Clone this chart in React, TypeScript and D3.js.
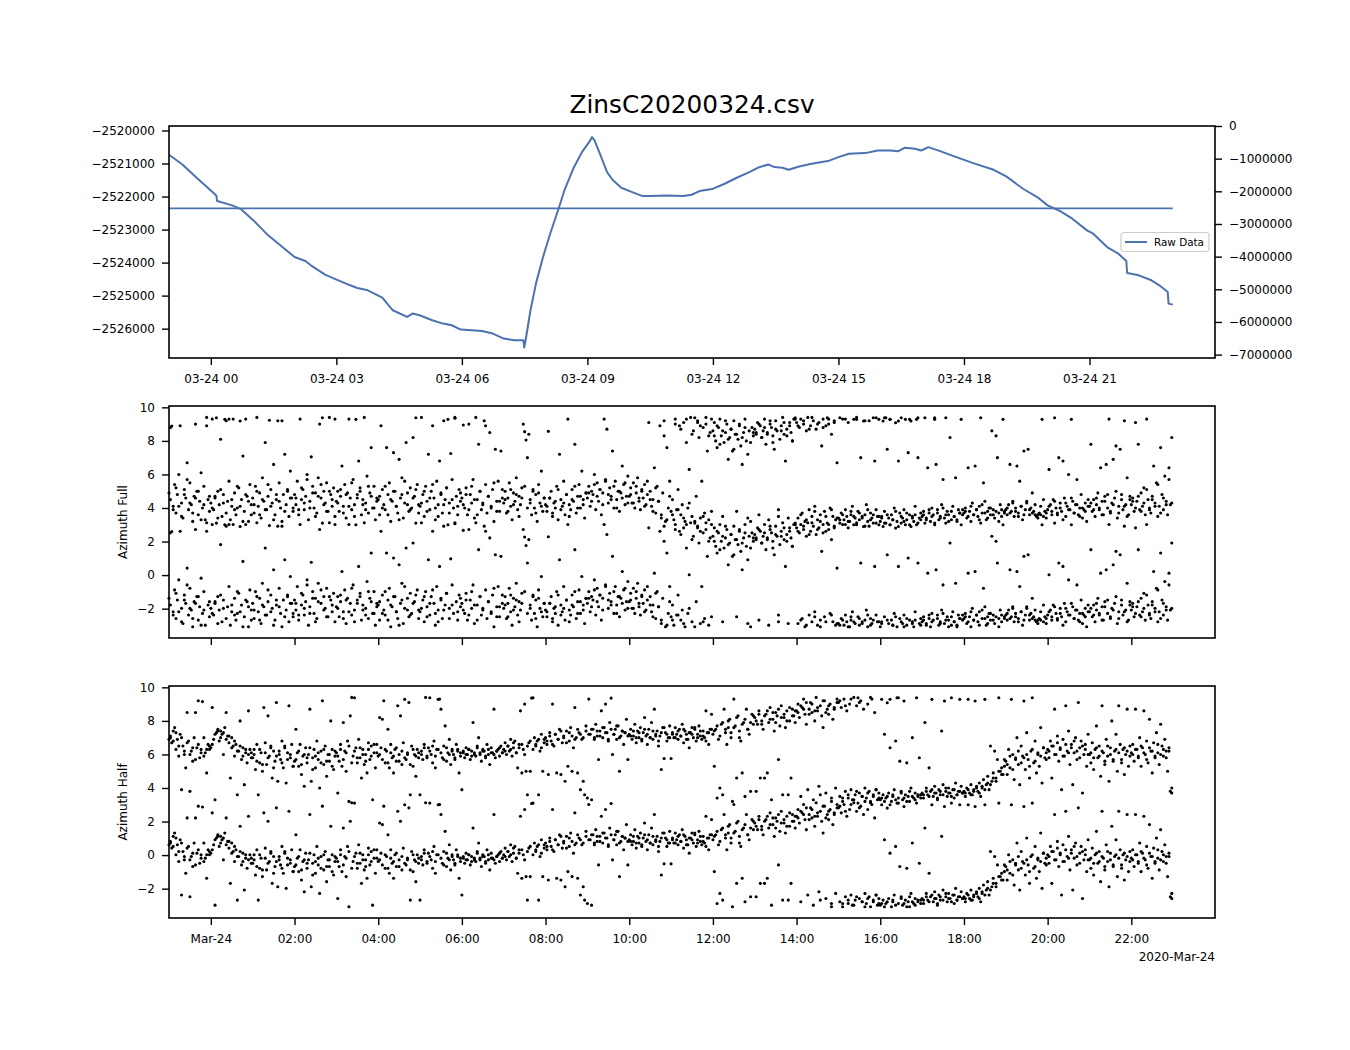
import * as d3 from "d3";
import { useRef, useEffect } from "react";

const title = "ZinsC20200324.csv";
const dayStart = Date.UTC(2020, 2, 24);

// top panel: hours since 03-24 00:00 and the raw reading
const rawHours = [
  -1.0, -0.68, -0.34, 0, 0.13, 0.15, 0.51, 0.73, 1.02, 1.37, 1.71, 2.0, 2.26,
  2.39, 2.73, 2.99, 3.33, 3.5, 3.75, 4.1, 4.18, 4.35, 4.69, 4.82, 4.99, 5.29,
  5.55, 5.76, 5.97, 6.23, 6.48, 6.74, 7.0, 7.25, 7.47, 7.49, 7.53, 7.64, 7.77,
  7.94, 8.11, 8.31, 8.45, 8.66, 8.87, 9.04, 9.11, 9.17, 9.3, 9.47, 9.6, 9.81,
  10.07, 10.32, 10.5, 10.89, 11.29, 11.49, 11.68, 11.98, 12.28, 12.57, 12.87,
  13.07, 13.32, 13.47, 13.66, 13.81, 14.06, 14.36, 14.75, 15.0, 15.25, 15.64,
  15.94, 16.24, 16.43, 16.58, 16.83, 16.98, 17.15, 17.43, 17.82, 18.22, 18.71,
  19.01, 19.41, 19.75, 20.0, 20.3, 20.59, 20.94, 21.09, 21.44, 21.69, 21.88,
  21.9, 22.18, 22.48, 22.67, 22.87, 22.89, 22.99,
];
const rawValues = [
  -2520736, -2521028, -2521431, -2521815, -2521966, -2522137, -2522268,
  -2522389, -2522722, -2523175, -2523528, -2523831, -2523952, -2524083,
  -2524365, -2524506, -2524688, -2524768, -2524839, -2525060, -2525192,
  -2525444, -2525645, -2525544, -2525595, -2525746, -2525847, -2525897,
  -2526028, -2526048, -2526069, -2526149, -2526300, -2526351, -2526351,
  -2526573, -2526300, -2525444, -2524637, -2523831, -2523125, -2522369,
  -2521815, -2521159, -2520655, -2520353, -2520202, -2520302, -2520706,
  -2521260, -2521492, -2521734, -2521865, -2521986, -2521986, -2521966,
  -2521986, -2521946, -2521835, -2521774, -2521613, -2521431, -2521260,
  -2521129, -2521028, -2521109, -2521129, -2521190, -2521089, -2521008,
  -2520927, -2520806, -2520706, -2520685, -2520605, -2520605, -2520625,
  -2520524, -2520554, -2520605, -2520504, -2520625, -2520806, -2520988,
  -2521190, -2521391, -2521764, -2522016, -2522268, -2522440, -2522671,
  -2523024, -2523125, -2523548, -2523730, -2523952, -2524315, -2524385,
  -2524536, -2524688, -2524889, -2525242, -2525272,
];
const refHours = [-1.0, 22.99];
const refValues = [-2522360, -2522360];

const leftTicks = [-2520000, -2521000, -2522000, -2523000, -2524000, -2525000, -2526000];
const rightTicks = [0, -1000000, -2000000, -3000000, -4000000, -5000000, -6000000, -7000000];
const topTickHours = [0, 3, 6, 9, 12, 15, 18, 21];
const bottomTickHours = [0, 2, 4, 6, 8, 10, 12, 14, 16, 18, 20, 22];
const azimuthTicks = [10, 8, 6, 4, 2, 0, -2];

// azimuth readings, one row per hour starting at 23:00 on 03-23
const firstHour = -1;
const azimuthFull = [
  [4.9, 8.8, 2.6, 4.1, 5.4, 3.7, 4.8, 6.0, 8.9, 4.3, 3.4, 5.1, 4.6, 6.7, 3.9, 5.5, 4.2, 3.2, 4.7, 9.0, 5.0, 3.6, 4.4, 6.1, 4.0, 5.3, 3.3, 9.4, 4.5, 3.8],
  [4.3, 9.3, 3.9, 4.6, 3.1, 5.0, 4.2, 8.1, 3.5, 4.8, 3.0, 9.2, 4.4, 5.6, 3.3, 4.1, 9.3, 4.9, 3.6, 4.0, 5.2, 2.9, 4.5, 7.1, 3.8, 9.3, 4.7, 3.2, 5.4, 4.2],
  [4.6, 3.7, 5.3, 9.4, 4.1, 4.9, 3.4, 5.8, 4.4, 7.9, 3.9, 4.7, 2.95, 5.1, 4.3, 6.6, 3.6, 4.5, 9.2, 5.5, 4.0, 3.2, 4.8, 7.2, 4.2, 5.0, 3.5, 6.2, 4.6, 3.8],
  [4.8, 4.2, 5.6, 3.6, 9.3, 4.5, 5.1, 3.9, 4.7, 6.0, 3.3, 4.4, 7.05, 5.3, 4.0, 4.9, 3.7, 5.8, 9.0, 4.6, 3.1, 5.0, 4.3, 5.5, 3.8, 9.4, 4.8, 4.1, 5.2, 3.5],
  [4.4, 5.0, 3.8, 4.7, 6.5, 4.1, 5.4, 3.4, 4.9, 9.3, 4.6, 3.9, 5.7, 4.2, 3.0, 4.8, 6.8, 5.2, 3.6, 4.5, 9.4, 4.3, 5.9, 3.7, 4.9, 7.6, 4.0, 5.3, 3.3, 4.6],
  [4.5, 3.6, 8.9, 5.1, 4.2, 3.9, 7.6, 4.8, 5.5, 3.2, 4.4, 7.3, 5.0, 4.1, 3.7, 6.9, 4.6, 5.8, 3.4, 4.3, 7.9, 4.9, 3.8, 5.2, 4.0, 8.2, 4.7, 3.1, 5.4, 4.2],
  [4.1, 9.4, 4.8, 3.5, 5.3, 4.4, 7.2, 3.9, 5.0, 8.9, 4.6, 3.3, 5.6, 4.2, 6.8, 4.9, 3.7, 9.2, 4.5, 5.2, 3.0, 4.3, 7.25, 5.7, 4.0, 9.35, 4.7, 3.6, 5.1, 4.4],
  [4.6, 8.95, 4.0, 5.2, 3.6, 9.0, 4.8, 4.3, 5.7, 3.4, 9.4, 4.5, 7.8, 5.0, 3.9, 4.2, 9.2, 5.4, 3.7, 4.7, 8.5, 4.1, 5.1, 3.2, 7.5, 4.4, 5.6, 3.8, 7.4, 4.6],
  [4.3, 5.0, 3.7, 4.6, 5.5, 4.1, 3.3, 4.9, 4.4, 5.8, 3.9, 4.7, 4.2, 5.2, 9.0, 8.55, 8.05, 7.0, 8.4, 4.5, 3.6, 5.1, 4.0, 4.8, 3.2, 5.4, 4.3, 6.2, 3.8, 4.6],
  [4.2, 3.8, 8.57, 4.6, 5.0, 3.5, 4.3, 4.0, 5.3, 3.3, 7.2, 4.5, 4.1, 5.6, 3.6, 4.8, 9.3, 4.2, 3.9, 5.1, 4.4, 7.8, 3.7, 4.7, 5.4, 4.0, 6.2, 4.5, 3.4, 4.9],
  [4.6, 5.3, 4.1, 5.0, 4.8, 6.0, 3.9, 5.5, 4.4, 5.1, 3.6, 4.9, 9.3, 5.7, 8.7, 4.3, 5.2, 4.7, 7.4, 4.0, 5.6, 4.5, 5.0, 3.8, 4.9, 6.5, 5.4, 4.2, 4.7, 5.9],
  [4.7, 5.2, 4.3, 5.5, 4.0, 4.9, 5.8, 4.4, 3.9, 5.1, 4.6, 5.4, 4.2, 4.8, 9.1, 5.0, 4.1, 4.5, 6.4, 3.7, 5.3, 4.4, 8.9, 3.4, 4.9, 8.3, 3.2, 7.6, 4.0, 5.6],
  [3.8, 4.5, 3.3, 9.3, 3.9, 5.1, 8.9, 3.6, 4.2, 9.1, 3.2, 7.9, 4.0, 6.3, 9.4, 3.5, 8.6, 3.1, 4.7, 9.2, 8.2, 3.4, 5.6, 8.8, 3.7, 9.0, 7.4, 3.3, 8.5, 9.3],
  [8.6, 9.1, 8.0, 7.6, 8.8, 9.3, 8.3, 3.5, 7.9, 8.5, 9.0, 6.9, 8.2, 8.7, 7.4, 9.2, 8.4, 3.8, 8.1, 8.9, 7.7, 6.6, 8.5, 9.3, 8.0, 7.2, 8.6, 3.2, 8.8, 8.3],
  [8.7, 8.4, 9.1, 3.6, 8.9, 8.2, 8.6, 9.3, 7.8, 8.5, 3.3, 9.0, 8.8, 8.3, 7.5, 9.2, 8.6, 3.9, 8.1, 8.9, 9.4, 8.4, 6.8, 8.7, 3.4, 9.1, 8.5, 8.0, 9.3, 3.1],
  [9.1, 3.4, 8.8, 9.3, 3.7, 9.0, 3.2, 8.6, 9.4, 3.9, 8.9, 3.5, 9.2, 4.1, 8.7, 3.3, 9.1, 3.6, 7.7, 9.3, 3.8, 8.9, 3.1, 9.0, 4.0, 8.4, 3.5, 9.2, 3.3, 6.7],
  [3.4, 3.1, 3.7, 9.3, 3.3, 3.9, 3.5, 9.1, 3.2, 3.6, 4.1, 3.0, 3.4, 9.4, 3.8, 3.3, 7.0, 3.5, 2.9, 3.6, 4.2, 3.2, 9.2, 3.7, 3.4, 3.1, 6.8, 3.9, 3.5, 3.0],
  [3.2, 3.5, 2.9, 3.8, 3.1, 7.5, 3.4, 3.0, 3.6, 3.3, 4.0, 2.8, 3.2, 6.8, 3.7, 3.1, 3.4, 3.9, 3.0, 3.3, 7.3, 3.6, 2.9, 3.5, 3.2, 4.1, 3.0, 7.0, 3.4, 3.7],
  [3.5, 3.8, 3.1, 3.4, 6.4, 3.7, 3.2, 4.0, 3.6, 3.0, 6.6, 3.9, 3.3, 3.5, 4.2, 5.7, 3.4, 3.1, 3.8, 3.6, 8.2, 3.3, 4.1, 3.5, 5.8, 3.2, 3.9, 3.7, 3.0, 3.6],
  [3.7, 4.0, 3.4, 6.4, 3.8, 3.2, 4.3, 3.6, 6.5, 3.9, 3.5, 4.1, 3.1, 3.7, 5.5, 4.4, 3.3, 3.8, 4.0, 3.6, 8.6, 3.9, 3.4, 8.3, 7.0, 3.7, 4.2, 3.5, 3.0, 3.8],
  [3.9, 3.6, 4.2, 6.6, 3.8, 4.4, 3.5, 4.0, 6.5, 3.7, 5.6, 4.1, 3.3, 7.4, 3.9, 4.3, 7.5, 3.6, 4.0, 4.9, 3.8, 3.6, 3.5, 3.6, 3.7, 4.1, 3.0, 4.5, 3.8, 3.4],
  [3.9, 6.3, 4.2, 3.6, 4.5, 3.1, 4.0, 3.7, 7.0, 4.3, 3.8, 6.8, 4.6, 3.5, 4.1, 6.0, 3.9, 3.0, 4.4, 3.7, 4.2, 5.7, 3.6, 4.0, 4.8, 3.4, 3.9, 4.3, 3.2, 4.1],
  [4.1, 7.8, 3.8, 4.5, 3.5, 4.2, 4.9, 3.9, 6.4, 4.4, 3.6, 4.7, 6.6, 4.0, 9.3, 3.7, 4.3, 6.9, 4.6, 7.7, 3.4, 4.1, 7.5, 4.8, 3.9, 9.2, 4.2, 5.8, 3.6, 4.5],
  [4.2, 4.6, 3.8, 9.1, 4.4, 7.8, 3.9, 4.9, 4.1, 5.2, 3.6, 9.3, 4.5, 4.0, 3.7, 4.7, 6.5, 4.3, 5.5, 3.5, 4.1, 7.6, 4.8, 3.9, 5.9, 4.4, 3.6, 6.4, 4.2, 8.2],
];
// readings taken half a step later than those above
const azimuthFullLate = [
  [4.5, 3.9, 5.2, 4.1, 3.5, 4.8, 5.7, 4.3, 3.7, 4.6, 5.0, 3.3, 4.2, 8.9, 4.7],
  [4.0, 4.7, 3.4, 5.1, 4.3, 3.7, 9.3, 4.5, 3.9, 5.3, 4.1, 3.2, 4.8, 4.4, 3.6],
  [4.2, 5.0, 3.6, 4.5, 3.9, 5.4, 4.1, 3.3, 4.8, 4.4, 9.2, 3.8, 5.1, 4.6, 4.0],
  [4.6, 3.9, 5.2, 4.3, 5.7, 4.0, 4.9, 3.5, 4.7, 5.4, 4.2, 3.8, 5.0, 4.5, 9.3],
  [4.3, 5.1, 3.7, 4.8, 4.1, 5.5, 3.5, 4.6, 5.0, 4.2, 3.9, 5.3, 4.7, 4.0, 4.4],
  [4.7, 4.0, 5.3, 3.6, 4.5, 5.0, 4.1, 3.3, 4.8, 5.6, 4.2, 3.9, 4.6, 5.1, 3.7],
  [4.3, 5.0, 3.8, 4.6, 5.4, 4.0, 3.5, 4.8, 4.2, 5.2, 3.7, 4.5, 9.4, 4.1, 4.9],
  [4.2, 4.8, 3.9, 5.3, 4.5, 3.6, 5.0, 4.3, 8.9, 4.7, 4.0, 5.5, 3.8, 4.4, 5.1],
  [4.5, 3.8, 5.1, 4.2, 4.8, 3.5, 4.6, 5.3, 4.0, 4.3, 5.0, 3.7, 4.9, 4.1, 4.6],
  [4.1, 4.6, 3.7, 4.4, 5.1, 3.9, 4.3, 4.8, 3.5, 4.5, 5.3, 4.0, 4.7, 4.2, 4.9],
  [4.9, 4.4, 5.4, 4.7, 5.1, 4.2, 5.6, 4.8, 4.5, 5.3, 4.0, 5.0, 4.6, 5.5, 4.3],
  [4.8, 4.3, 5.3, 4.6, 5.0, 4.1, 5.6, 4.5, 3.8, 5.2, 4.4, 3.6, 9.2, 3.3, 4.7],
  [3.6, 9.0, 3.9, 8.7, 3.4, 9.3, 4.3, 8.4, 3.2, 9.1, 8.9, 3.5, 9.4, 8.3, 3.8],
  [8.3, 8.9, 7.8, 8.6, 9.2, 8.1, 8.7, 7.5, 8.4, 9.0, 8.2, 8.8, 3.4, 7.9, 8.5],
  [8.5, 9.0, 8.2, 8.8, 8.4, 9.2, 7.9, 8.7, 3.5, 8.6, 9.1, 8.3, 8.9, 8.0, 9.3],
  [8.9, 3.6, 9.2, 3.3, 8.7, 9.4, 3.8, 9.0, 3.2, 8.8, 3.5, 9.3, 3.9, 9.1, 3.4],
  [3.3, 3.6, 9.3, 3.2, 3.8, 3.5, 3.0, 3.7, 3.4, 9.2, 3.9, 3.3, 3.6, 3.1, 3.5],
  [3.4, 3.1, 3.6, 3.0, 3.3, 3.8, 2.9, 3.5, 3.2, 3.7, 3.0, 3.4, 3.6, 3.1, 3.3],
  [3.6, 3.3, 3.9, 3.5, 3.1, 3.7, 3.4, 4.0, 3.6, 3.2, 3.8, 3.5, 3.3, 3.7, 3.9],
  [3.8, 3.5, 4.1, 3.6, 3.9, 3.3, 4.2, 3.7, 3.4, 4.0, 3.6, 3.8, 3.2, 3.9, 3.7],
  [4.0, 3.7, 4.3, 3.8, 3.5, 4.1, 3.6, 4.4, 3.9, 3.7, 4.2, 3.4, 3.6, 3.5, 3.7],
  [4.1, 3.8, 4.4, 3.6, 4.0, 3.3, 4.3, 3.9, 4.6, 3.7, 4.2, 3.5, 4.0, 3.8, 4.5],
  [4.3, 3.9, 4.6, 4.0, 3.6, 4.4, 4.8, 3.8, 4.2, 5.0, 3.7, 4.5, 4.1, 3.5, 4.7],
  [4.4, 4.0, 4.7, 3.8, 4.3, 5.1, 3.9, 4.5, 4.1, 5.4, 3.7, 4.6, 4.2, 5.7, 4.3],
];
const azimuthHalf = [
  [6.9, 7.0, 6.7, 7.4, 7.6, 6.3, 6.9, 5.9, 7.2, 3.9, 6.5, 6.0, 5.2, 8.5, 6.8, 3.8, 6.2, 5.6, 7.0, 8.5, 6.4, 9.2, 5.8, 6.3, 9.15, 7.0, 6.1, 4.9, 6.6, 6.3],
  [6.4, 8.8, 6.9, 3.3, 7.3, 7.5, 6.8, 7.4, 7.2, 6.0, 7.6, 8.5, 7.1, 6.7, 4.6, 7.0, 6.5, 5.9, 6.6, 3.6, 6.2, 8.0, 5.7, 6.4, 4.2, 6.1, 5.5, 8.6, 6.3, 5.8],
  [5.8, 6.3, 5.1, 6.6, 3.6, 5.5, 6.1, 5.0, 8.8, 6.7, 5.4, 8.3, 5.9, 6.4, 4.6, 6.2, 5.6, 9.1, 4.4, 6.0, 5.7, 6.8, 5.2, 6.5, 4.3, 6.1, 8.9, 5.8, 6.6, 5.3],
  [5.6, 7.5, 6.1, 5.3, 6.6, 4.8, 5.9, 4.1, 6.4, 5.5, 6.0, 8.7, 4.4, 5.8, 6.3, 5.2, 6.8, 5.7, 4.0, 6.2, 9.2, 5.4, 6.5, 4.7, 6.0, 5.6, 8.0, 6.3, 5.1, 5.9],
  [6.1, 3.7, 5.6, 6.6, 5.3, 7.9, 6.2, 5.0, 6.8, 3.2, 8.3, 9.4, 5.9, 3.1, 6.4, 5.5, 6.9, 5.8, 4.6, 6.3, 5.4, 6.0, 4.9, 6.7, 5.7, 6.5, 3.3, 6.1, 5.2, 6.6],
  [5.9, 8.2, 6.4, 8.1, 9.2, 5.5, 6.2, 7.5, 5.2, 6.6, 5.8, 4.9, 6.3, 5.6, 8.9, 6.0, 8.3, 5.4, 6.7, 3.0, 5.7, 6.1, 9.1, 3.6, 6.5, 5.3, 6.0, 4.7, 6.3, 5.8],
  [3.6, 6.2, 5.7, 6.6, 9.4, 5.9, 6.4, 3.1, 6.0, 5.5, 6.8, 5.2, 6.3, 3.0, 9.3, 8.7, 5.8, 6.5, 7.7, 5.6, 6.1, 6.9, 5.4, 6.3, 6.0, 5.7, 6.6, 6.2, 4.9, 5.9],
  [3.9, 6.1, 5.8, 6.4, 6.0, 6.3, 5.7, 6.2, 7.9, 6.0, 5.9, 6.5, 7.0, 6.1, 5.6, 6.3, 6.2, 5.9, 6.6, 6.0, 5.4, 6.4, 6.1, 8.7, 5.8, 6.2, 6.3, 5.9, 6.5, 6.1],
  [6.3, 6.7, 6.0, 6.5, 6.2, 6.9, 5.9, 6.4, 6.8, 6.1, 5.2, 6.6, 8.6, 4.9, 6.3, 9.0, 5.0, 3.6, 6.7, 5.0, 9.36, 3.1, 7.0, 6.5, 6.8, 3.6, 6.2, 7.2, 5.0, 6.9],
  [7.0, 6.6, 4.8, 7.3, 6.8, 9.0, 6.5, 7.2, 4.9, 6.9, 7.5, 4.8, 6.7, 7.1, 4.4, 7.4, 5.3, 6.8, 7.6, 5.0, 6.4, 8.8, 7.0, 4.9, 7.3, 3.9, 6.9, 4.4, 3.6, 7.7],
  [3.4, 9.3, 7.2, 3.3, 7.5, 6.9, 7.8, 7.1, 5.7, 7.4, 8.6, 7.0, 7.6, 9.0, 7.3, 6.8, 7.9, 9.36, 6.0, 7.2, 7.5, 6.9, 7.7, 5.0, 7.1, 7.4, 6.6, 7.3, 8.1, 5.7],
  [7.2, 7.5, 6.9, 7.1, 7.8, 6.7, 7.4, 7.0, 7.6, 6.8, 7.3, 8.2, 7.1, 6.6, 7.5, 7.0, 7.9, 6.9, 8.7, 7.2, 7.4, 6.5, 7.1, 5.1, 7.6, 5.76, 7.3, 6.8, 7.0, 7.7],
  [5.76, 7.3, 7.0, 7.6, 7.2, 6.9, 7.5, 7.1, 7.8, 6.7, 7.4, 7.2, 6.9, 6.4, 7.3, 7.6, 7.0, 7.5, 6.8, 7.2, 7.7, 7.1, 6.9, 7.4, 7.0, 8.6, 7.3, 6.6, 7.5, 8.4],
  [7.2, 5.3, 7.5, 3.4, 6.9, 4.0, 7.8, 3.6, 8.7, 7.3, 6.6, 7.6, 8.1, 7.0, 3.2, 9.3, 7.7, 4.6, 8.3, 7.4, 6.8, 4.9, 7.9, 3.5, 8.7, 7.5, 7.2, 3.8, 8.4, 7.8],
  [8.2, 3.8, 7.8, 8.6, 4.6, 8.0, 7.5, 4.6, 8.4, 4.9, 7.9, 8.8, 3.3, 8.1, 7.4, 8.5, 8.3, 5.7, 7.7, 8.9, 3.6, 8.2, 7.6, 8.6, 3.6, 8.0, 4.6, 8.7, 8.3, 7.9],
  [8.6, 9.0, 8.2, 3.5, 8.8, 9.3, 8.4, 7.8, 3.9, 8.7, 9.1, 8.5, 3.3, 8.0, 9.4, 8.6, 4.1, 8.9, 8.3, 7.6, 9.2, 3.7, 8.7, 8.4, 9.0, 3.2, 8.1, 8.8, 4.0, 9.3],
  [9.1, 3.5, 8.8, 3.2, 9.3, 3.8, 8.6, 3.4, 9.0, 3.9, 3.3, 9.4, 3.6, 8.9, 3.1, 3.7, 9.2, 3.5, 8.7, 4.0, 3.4, 9.0, 3.8, 3.2, 9.3, 3.6, 8.5, 3.9, 3.3, 3.7],
  [3.3, 3.0, 3.6, 7.2, 3.4, 2.8, 3.7, 6.4, 3.2, 3.5, 3.9, 6.8, 3.1, 3.4, 5.6, 3.8, 3.3, 2.9, 3.6, 5.5, 3.5, 3.2, 4.0, 7.0, 3.4, 3.7, 3.1, 3.5, 5.8, 3.6],
  [3.7, 3.4, 7.9, 4.0, 3.6, 5.2, 3.8, 3.0, 3.5, 4.1, 3.7, 3.3, 3.9, 3.6, 7.4, 4.2, 2.9, 3.8, 3.5, 4.0, 3.7, 3.1, 3.9, 3.4, 4.3, 3.6, 3.8, 3.0, 4.1, 3.7],
  [3.8, 3.5, 4.0, 3.0, 3.7, 4.2, 3.6, 3.9, 2.9, 4.1, 3.8, 4.3, 3.5, 4.0, 4.5, 3.0, 4.2, 4.7, 3.9, 6.5, 4.4, 4.9, 6.2, 4.6, 5.7, 3.1, 5.0, 5.2, 4.8, 5.7],
  [5.6, 4.8, 6.3, 5.2, 3.0, 6.0, 4.5, 5.8, 7.0, 5.4, 4.2, 6.5, 5.9, 2.9, 5.1, 7.3, 5.7, 4.6, 6.2, 3.1, 5.5, 6.8, 4.9, 6.0, 5.3, 7.6, 4.3, 6.4, 5.8, 6.1],
  [6.3, 5.8, 6.8, 4.6, 6.5, 8.7, 6.0, 7.1, 5.6, 6.4, 3.9, 6.9, 5.9, 8.9, 6.2, 7.4, 5.4, 6.6, 4.2, 6.1, 7.0, 5.7, 9.1, 6.4, 6.8, 3.7, 6.0, 6.6, 5.3, 7.2],
  [6.0, 5.5, 6.7, 5.1, 6.3, 7.7, 5.8, 6.5, 4.7, 8.9, 6.1, 5.4, 6.9, 5.9, 4.4, 6.4, 8.0, 5.6, 6.2, 7.2, 5.0, 8.9, 6.6, 5.7, 6.3, 4.8, 6.0, 8.7, 5.3, 6.5],
  [6.1, 6.6, 5.6, 8.7, 6.3, 5.9, 7.0, 5.3, 6.4, 8.6, 6.0, 6.8, 5.5, 8.1, 6.2, 4.9, 6.7, 5.8, 7.3, 6.1, 5.4, 7.8, 6.5, 5.9, 6.9, 6.2, 5.0, 6.4, 3.8, 3.7],
];
const azimuthHalfLate = [
  [7.1, 6.8, 7.3, 6.5, 7.0, 6.2, 6.7, 6.0, 6.4, 5.7, 6.6, 6.1, 5.9, 6.3, 6.5],
  [6.6, 7.2, 7.4, 7.0, 7.3, 6.9, 7.1, 6.4, 6.8, 6.2, 6.5, 5.9, 6.3, 6.0, 6.1],
  [6.0, 5.6, 6.3, 5.4, 6.1, 5.8, 6.5, 5.2, 5.9, 6.2, 5.5, 6.4, 5.7, 6.0, 5.3],
  [5.7, 6.2, 5.4, 6.0, 5.8, 6.4, 5.1, 5.9, 6.1, 5.5, 6.3, 5.6, 6.0, 5.3, 6.2],
  [5.9, 6.3, 5.7, 6.1, 6.5, 5.5, 6.2, 5.8, 6.4, 6.0, 5.6, 6.3, 5.9, 6.6, 6.1],
  [6.0, 5.7, 6.3, 5.5, 6.1, 5.9, 6.4, 5.6, 6.2, 5.8, 6.0, 5.4, 6.3, 5.9, 6.1],
  [6.0, 6.4, 5.8, 6.2, 6.5, 5.9, 6.3, 6.1, 5.7, 6.4, 6.0, 6.2, 5.8, 6.3, 6.1],
  [6.2, 6.0, 6.3, 5.9, 6.1, 6.4, 6.0, 6.2, 5.8, 6.3, 6.1, 6.0, 6.2, 6.4, 6.1],
  [6.2, 6.5, 6.3, 6.7, 6.1, 6.4, 6.6, 6.0, 6.5, 6.8, 6.3, 6.6, 6.9, 6.4, 6.7],
  [6.8, 7.1, 6.6, 7.2, 6.9, 7.4, 7.0, 6.7, 7.3, 7.1, 6.9, 7.5, 7.2, 7.0, 7.4],
  [7.2, 7.5, 7.0, 7.4, 7.1, 7.6, 7.3, 6.9, 7.5, 7.2, 7.7, 7.0, 7.4, 7.3, 7.1],
  [7.1, 7.4, 7.0, 7.3, 6.9, 7.5, 7.2, 7.0, 7.4, 7.1, 6.8, 7.3, 7.6, 7.2, 7.0],
  [7.2, 7.0, 7.4, 7.1, 7.5, 6.9, 7.3, 7.2, 7.6, 7.0, 7.4, 7.1, 6.8, 7.3, 7.5],
  [7.4, 7.7, 7.1, 7.9, 7.5, 8.0, 7.3, 7.6, 8.2, 7.0, 7.8, 8.1, 7.5, 7.9, 8.3],
  [8.0, 8.4, 7.8, 8.3, 8.6, 8.1, 8.5, 7.9, 8.7, 8.2, 8.4, 8.0, 8.8, 8.3, 8.6],
  [8.5, 8.9, 8.7, 9.1, 8.4, 9.0, 8.6, 8.8, 3.6, 9.2, 8.5, 8.9, 3.4, 8.7, 9.1],
  [9.2, 3.4, 8.9, 3.6, 9.3, 3.3, 3.8, 9.1, 3.5, 3.2, 3.7, 9.4, 3.5, 3.9, 3.4],
  [3.4, 3.2, 3.5, 3.0, 3.6, 3.3, 3.1, 3.7, 3.4, 3.2, 3.8, 3.5, 3.3, 3.6, 3.4],
  [3.6, 3.8, 3.5, 3.9, 3.7, 3.4, 3.8, 3.6, 4.0, 3.7, 3.5, 3.9, 3.6, 3.8, 3.7],
  [3.7, 3.9, 3.6, 3.8, 4.0, 3.7, 4.1, 3.9, 4.3, 4.2, 4.6, 4.4, 5.0, 4.8, 5.3],
  [5.4, 5.9, 5.1, 5.7, 6.2, 5.5, 5.8, 6.0, 5.3, 6.3, 5.6, 6.1, 5.9, 6.4, 5.7],
  [6.2, 6.5, 6.0, 6.7, 6.3, 5.9, 6.6, 6.1, 6.4, 6.8, 6.2, 5.8, 6.5, 6.3, 6.0],
  [6.1, 5.8, 6.4, 5.9, 6.2, 5.6, 6.5, 6.0, 5.7, 6.3, 6.1, 5.5, 6.4, 6.2, 5.9],
  [6.0, 6.3, 5.8, 6.5, 6.1, 5.7, 6.4, 6.2, 5.9, 6.6, 6.0, 6.3, 5.8, 6.2, 4.0],
];

const FONT = "DejaVu Sans, sans-serif";
const LINE_COLOR = "#4c72b0";
const AX_LEFT = 169;
const AX_RIGHT = 1215;

const hourToDate = (h: number) => new Date(dayStart + h * 3600e3);

// angle wrapped to [-pi, pi) and drawn once more one turn higher
const wrapAngle = (a: number) =>
  a - 2 * Math.PI * Math.floor((a + Math.PI) / (2 * Math.PI));

function styleAxis(g: d3.Selection<SVGGElement, unknown, null, undefined>, size = 12) {
  g.attr("font-family", FONT).attr("font-size", size);
  g.select(".domain").remove();
  g.selectAll(".tick line").attr("stroke", "#000").attr("stroke-width", 1.4);
  g.selectAll(".tick text").attr("fill", "#000");
}

function toPoints(rows: number[][], offset: number) {
  const points: [number, number][] = [];
  rows.forEach((row, r) => {
    row.forEach((a, j) => {
      const h = firstHour + r + (j + offset) / row.length;
      const w = wrapAngle(a);
      points.push([h, w], [h, w + 2 * Math.PI]);
    });
  });
  return points;
}

function draw(svgEl: SVGSVGElement | null) {
  if (!svgEl) return;
  const svg = d3.select(svgEl);
  svg.selectAll("*").remove();

  const x = d3
    .scaleUtc()
    .domain([hourToDate(-1), hourToDate(24)])
    .range([AX_LEFT, AX_RIGHT]);

  svg
    .append("text")
    .attr("x", (AX_LEFT + AX_RIGHT) / 2)
    .attr("y", 113)
    .attr("text-anchor", "middle")
    .attr("font-family", FONT)
    .attr("font-size", 24.8)
    .text(title);

  // ---- top panel ----
  const t0 = 126;
  const t1 = 358;
  const yL = d3.scaleLinear().domain([-2526889, -2519864]).range([t1, t0]);
  const yR = d3.scaleLinear().domain([-7104000, 0]).range([t1, t0]);

  const line = d3
    .line<[number, number]>()
    .x((d) => x(hourToDate(d[0])))
    .y((d) => yL(d[1]));

  svg
    .append("path")
    .attr("d", line(d3.zip(refHours, refValues) as [number, number][]))
    .attr("fill", "none")
    .attr("stroke", LINE_COLOR)
    .attr("stroke-width", 1.8);

  svg
    .append("path")
    .attr("d", line(d3.zip(rawHours, rawValues) as [number, number][]))
    .attr("fill", "none")
    .attr("stroke", LINE_COLOR)
    .attr("stroke-width", 2)
    .attr("stroke-linejoin", "round");

  const gl = svg
    .append("g")
    .attr("transform", `translate(${AX_LEFT},0)`)
    .call(d3.axisLeft(yL).tickValues(leftTicks).tickSize(7).tickPadding(7).tickFormat(d3.format("d")));
  styleAxis(gl);

  const gr = svg
    .append("g")
    .attr("transform", `translate(${AX_RIGHT},0)`)
    .call(d3.axisRight(yR).tickValues(rightTicks).tickSize(7).tickPadding(7).tickFormat(d3.format("d")));
  styleAxis(gr);

  const gt = svg
    .append("g")
    .attr("transform", `translate(0,${t1})`)
    .call(
      d3
        .axisBottom(x)
        .tickValues(topTickHours.map(hourToDate))
        .tickSize(7)
        .tickPadding(9.5)
        .tickFormat((d) => d3.utcFormat("%m-%d %H")(d as Date))
    );
  styleAxis(gt);

  svg
    .append("rect")
    .attr("x", AX_LEFT)
    .attr("y", t0)
    .attr("width", AX_RIGHT - AX_LEFT)
    .attr("height", t1 - t0)
    .attr("fill", "none")
    .attr("stroke", "#000")
    .attr("stroke-width", 1.6);

  // legend, centre right
  const lw = 88;
  const lh = 19;
  const lx = AX_RIGHT - 6 - lw;
  const ly = (t0 + t1) / 2 - lh / 2;
  const legend = svg.append("g").attr("transform", `translate(${lx},${ly})`);
  legend
    .append("rect")
    .attr("width", lw)
    .attr("height", lh)
    .attr("rx", 3)
    .attr("fill", "#fff")
    .attr("fill-opacity", 0.8)
    .attr("stroke", "#ccc")
    .attr("stroke-width", 1.2);
  legend
    .append("line")
    .attr("x1", 4)
    .attr("x2", 26)
    .attr("y1", lh / 2)
    .attr("y2", lh / 2)
    .attr("stroke", LINE_COLOR)
    .attr("stroke-width", 2);
  legend
    .append("text")
    .attr("x", 33)
    .attr("y", lh / 2)
    .attr("dy", "0.35em")
    .attr("font-family", FONT)
    .attr("font-size", 10.4)
    .text("Raw Data");

  // ---- azimuth panels ----
  const scatterPanel = (
    top: number,
    bottom: number,
    rows: number[][],
    lateRows: number[][],
    label: string,
    withLabels: boolean
  ) => {
    const y = d3.scaleLinear().domain([-3.75, 10.08]).range([bottom, top]);
    const points = [...toPoints(rows, 0), ...toPoints(lateRows, 0.5)];

    svg
      .append("g")
      .selectAll("circle")
      .data(points)
      .join("circle")
      .attr("cx", (d) => x(hourToDate(d[0])))
      .attr("cy", (d) => y(d[1]))
      .attr("r", 1.55)
      .attr("fill", "#000");

    const ga = svg
      .append("g")
      .attr("transform", `translate(${AX_LEFT},0)`)
      .call(d3.axisLeft(y).tickValues(azimuthTicks).tickSize(7).tickPadding(7).tickFormat(d3.format("d")));
    styleAxis(ga);

    const gb = svg
      .append("g")
      .attr("transform", `translate(0,${bottom})`)
      .call(
        d3
          .axisBottom(x)
          .tickValues(bottomTickHours.map(hourToDate))
          .tickSize(7)
          .tickPadding(9.5)
          .tickFormat((d) => {
            if (!withLabels) return "";
            const dt = d as Date;
            return dt.getUTCHours() === 0
              ? d3.utcFormat("%b-%d")(dt)
              : d3.utcFormat("%H:%M")(dt);
          })
      );
    styleAxis(gb);

    svg
      .append("rect")
      .attr("x", AX_LEFT)
      .attr("y", top)
      .attr("width", AX_RIGHT - AX_LEFT)
      .attr("height", bottom - top)
      .attr("fill", "none")
      .attr("stroke", "#000")
      .attr("stroke-width", 1.6);

    svg
      .append("text")
      .attr("transform", `translate(127,${(top + bottom) / 2}) rotate(-90)`)
      .attr("text-anchor", "middle")
      .attr("font-family", FONT)
      .attr("font-size", 12)
      .text(label);
  };

  scatterPanel(406, 638, azimuthFull, azimuthFullLate, "Azimuth Full", false);
  scatterPanel(686, 918, azimuthHalf, azimuthHalfLate, "Azimuth Half", true);

  svg
    .append("text")
    .attr("x", AX_RIGHT)
    .attr("y", 961)
    .attr("text-anchor", "end")
    .attr("font-family", FONT)
    .attr("font-size", 12)
    .text(d3.utcFormat("%Y-%b-%d")(hourToDate(0)));
}

const App = () => {
  const ref = useRef<SVGSVGElement | null>(null);

  useEffect(() => {
    draw(ref.current);
  }, []);

  return (
    <div style={{ position: "absolute", left: 0, top: 0, background: "#fff" }}>
      <svg ref={ref} width={1350} height={1050} style={{ display: "block" }}></svg>
    </div>
  );
};

export default App;
